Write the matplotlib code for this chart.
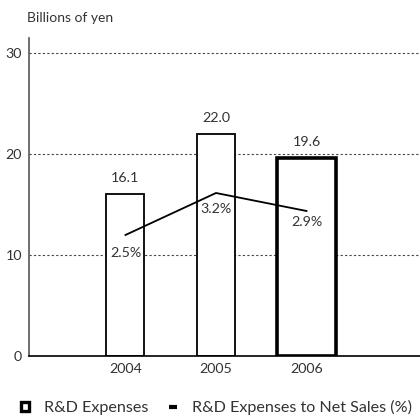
import matplotlib.pyplot as plt
from matplotlib.lines import Line2D
from matplotlib.patches import Patch

years = ["2004", "2005", "2006"]
rd_expenses = [16.1, 22.0, 19.6]
rd_ratio = [2.5, 3.2, 2.9]
yticks = [0, 10, 20, 30]

plt.rcParams['font.family'] = ['Lato', 'DejaVu Sans']
text_color = "#333333"

fig = plt.figure(figsize=(4.2, 4.2), dpi=100)
ax = fig.add_axes([0.069, 0.152, 0.931, 0.757])

x = list(range(len(years)))
widths = [0.42, 0.42, 0.65]
lws = [1.3, 1.3, 2.6]
for i in x:
    ax.bar(x[i], rd_expenses[i], width=widths[i], color="white",
           edgecolor="black", linewidth=lws[i], zorder=3)
    ax.text(x[i], rd_expenses[i] + 1.0, f"{rd_expenses[i]:.1f}", ha="center",
            va="bottom", fontsize=10.3, color=text_color)

ax.set_xlim(-1.066, 3.254)
ax.set_ylim(0, 31.5)
ax.set_yticks(yticks)
ax.set_yticklabels([str(t) for t in yticks], fontsize=10.3, color=text_color)
ax.set_xticks(x)
ax.set_xticklabels(years, fontsize=10.3, color=text_color)
ax.tick_params(axis="y", length=0, pad=5)
ax.tick_params(axis="x", length=0, pad=5)
ax.grid(axis="y", linestyle=(0, (2, 2)), color="#444444", linewidth=0.8, zorder=0)
for s in ["top", "right"]:
    ax.spines[s].set_visible(False)
ax.spines["left"].set_color("#555555")
ax.spines["left"].set_linewidth(1.2)
ax.spines["bottom"].set_color("black")
ax.spines["bottom"].set_linewidth(1.2)
ax.spines["bottom"].set_zorder(4)

# ratio line on its own (hidden) scale
ax2 = ax.twinx()
ax2.set_ylim(0.48, 5.78)
ax2.plot(x, rd_ratio, color="black", linewidth=1.3, zorder=5)
offsets = [-0.3, -0.27, -0.19]
for i in x:
    ax2.text(x[i], rd_ratio[i] + offsets[i], f"{rd_ratio[i]}%", ha="center",
             va="center", fontsize=10.3, color=text_color, zorder=6)
ax2.axis("off")

fig.text(0.064, 0.958, "Billions of yen", fontsize=10, color=text_color, va="center")

handles = [Patch(facecolor="white", edgecolor="black", linewidth=2.4),
           Line2D([0], [0], color="black", linewidth=3, solid_capstyle="butt")]
fig.legend(handles, ["R&D Expenses", "R&D Expenses to Net Sales (%)"],
           loc="center", bbox_to_anchor=(0.515, 0.03), ncol=2, frameon=False,
           fontsize=11.6, handlelength=0.5, handleheight=0.5, handletextpad=0.9,
           columnspacing=1.3, labelcolor=text_color)

fig.savefig("out.png", dpi=100)
